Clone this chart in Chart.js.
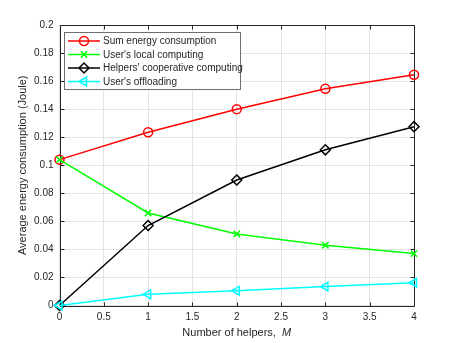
<!DOCTYPE html>
<html>
<head>
<meta charset="utf-8">
<script src="https://cdn.jsdelivr.net/npm/chart.js@4.4.0/dist/chart.umd.min.js"></script>
<style>
  html, body { margin: 0; padding: 0; background: #fff; }
  #wrap { width: 457px; height: 343px; }
</style>
</head>
<body>
<div id="wrap"><canvas id="chart" width="457" height="343"></canvas></div>
<script>
// data
const helpers = [0, 1, 2, 3, 4]
const sumEnergy = [0.104, 0.1235, 0.140, 0.1545, 0.1645]
const localComputing = [0.104, 0.066, 0.051, 0.043, 0.037]
const helpersComputing = [0, 0.057, 0.0895, 0.111, 0.1275]
const offloading = [0, 0.008, 0.0105, 0.0135, 0.0163]

const seriesLabels = [
  'Sum energy consumption',
  "User's local computing",
  "Helpers' cooperative computing",
  "User's offloading"
]

const FONT = "'Liberation Sans', Arial, Helvetica, sans-serif"
const AXIS = '#262626'

const toPoints = (ys) => ys.map((y, i) => ({ x: helpers[i], y }))
const fmt = (v) => String(+Number(v).toFixed(3))

const makeSet = (label, ys, color, style, extra) => ({
  label,
  data: toPoints(ys),
  borderColor: color,
  backgroundColor: 'rgba(0,0,0,0)',
  borderWidth: 1.5,
  pointStyle: style,
  pointRadius: 4.5,
  pointBorderWidth: 1.5,
  pointBorderColor: color,
  pointBackgroundColor: 'rgba(0,0,0,0)',
  tension: 0,
  clip: false,
  ...extra
})

const datasets = [
  makeSet(seriesLabels[0], sumEnergy, '#ff0000', 'circle', { order: 4 }),
  makeSet(seriesLabels[1], localComputing, '#00ff00', 'crossRot', { order: 3 }),
  makeSet(seriesLabels[2], helpersComputing, '#000000', 'rectRot', { order: 2, pointRadius: 5 }),
  makeSet(seriesLabels[3], offloading, '#00ffff', 'triangle', { order: 1, pointRotation: -90, pointRadius: 5 })
]

// box + inward ticks, matlab style
const framePlugin = {
  id: 'frame',
  beforeDatasetsDraw (chart) {
    const { ctx, chartArea: a, scales } = chart
    const L = Math.round(a.left) + 0.5
    const R = Math.round(a.right) + 0.5
    const T = Math.round(a.top) + 0.5
    const B = Math.round(a.bottom) + 0.5
    ctx.save()
    ctx.strokeStyle = AXIS
    ctx.lineWidth = 1
    ctx.beginPath()
    ctx.rect(L, T, R - L, B - T)
    const len = 4
    scales.x.ticks.forEach((t) => {
      const px = Math.round(scales.x.getPixelForValue(t.value)) + 0.5
      ctx.moveTo(px, B); ctx.lineTo(px, B - len)
      ctx.moveTo(px, T); ctx.lineTo(px, T + len)
    })
    scales.y.ticks.forEach((t) => {
      const py = Math.round(scales.y.getPixelForValue(t.value)) + 0.5
      ctx.moveTo(L, py); ctx.lineTo(L + len, py)
      ctx.moveTo(R, py); ctx.lineTo(R - len, py)
    })
    ctx.stroke()
    ctx.restore()
  },
  afterDraw (chart) {
    const { ctx, chartArea: a } = chart
    ctx.save()
    // x axis title with italic M
    ctx.fillStyle = AXIS
    ctx.textBaseline = 'middle'
    const part1 = 'Number of helpers,  '
    const part2 = 'M'
    ctx.font = '11px ' + FONT
    const w1 = ctx.measureText(part1).width
    ctx.font = 'italic 11px ' + FONT
    const w2 = ctx.measureText(part2).width
    const x0 = (a.left + a.right) / 2 - (w1 + w2) / 2
    ctx.font = '11px ' + FONT
    ctx.textAlign = 'left'
    ctx.fillText(part1, x0, 333)
    ctx.font = 'italic 11px ' + FONT
    ctx.fillText(part2, x0 + w1, 333)

    // legend
    const box = { x: 64.5, y: 32.5, w: 176, h: 57 }
    ctx.fillStyle = '#ffffff'
    ctx.strokeStyle = '#6e6e6e'
    ctx.lineWidth = 1
    ctx.fillRect(box.x, box.y, box.w, box.h)
    ctx.strokeRect(box.x, box.y, box.w, box.h)
    ctx.font = '10px ' + FONT
    ctx.textBaseline = 'middle'
    const rows = [41, 54.5, 68, 81.5]
    chart.data.datasets.forEach((ds, i) => {
      const y = rows[i]
      ctx.strokeStyle = ds.borderColor
      ctx.lineWidth = ds.borderWidth
      ctx.beginPath()
      ctx.moveTo(68, y); ctx.lineTo(100, y)
      ctx.stroke()
      ctx.fillStyle = 'rgba(0,0,0,0)'
      ctx.lineWidth = ds.pointBorderWidth
      Chart.helpers.drawPoint(ctx, {
        pointStyle: ds.pointStyle,
        rotation: ds.pointRotation || 0,
        radius: ds.pointRadius,
        borderWidth: ds.pointBorderWidth
      }, 84, y)
      ctx.fillStyle = AXIS
      ctx.fillText(ds.label, 103, y + 0.5)
    })
    ctx.restore()
  }
}

const chart = new Chart(document.getElementById('chart').getContext('2d'), {
  type: 'line',
  data: { datasets },
  options: {
    responsive: false,
    animation: false,
    devicePixelRatio: 1,
    layout: { padding: { top: 25, right: 43, left: 0, bottom: 0 } },
    plugins: {
      legend: { display: false },
      tooltip: { enabled: false }
    },
    scales: {
      x: {
        type: 'linear',
        min: 0,
        max: 4,
        grid: { color: '#e3e3e3', drawTicks: false },
        border: { display: false },
        ticks: {
          stepSize: 0.5,
          padding: 6,
          color: AXIS,
          font: { family: FONT, size: 10 },
          maxRotation: 0,
          callback: fmt
        },
        afterFit (scale) { scale.height = 37.5 }
      },
      y: {
        type: 'linear',
        min: 0,
        max: 0.2,
        grid: { color: '#e3e3e3', drawTicks: false },
        border: { display: false },
        title: {
          display: true,
          text: 'Average energy consumption (Joule)',
          color: AXIS,
          font: { family: FONT, size: 11 },
          padding: { top: 16, bottom: 0 }
        },
        ticks: {
          stepSize: 0.02,
          padding: 6,
          color: AXIS,
          font: { family: FONT, size: 10 },
          callback: fmt
        },
        afterFit (scale) { scale.width = 59.5 }
      }
    }
  },
  plugins: [framePlugin]
})
</script>
</body>
</html>
